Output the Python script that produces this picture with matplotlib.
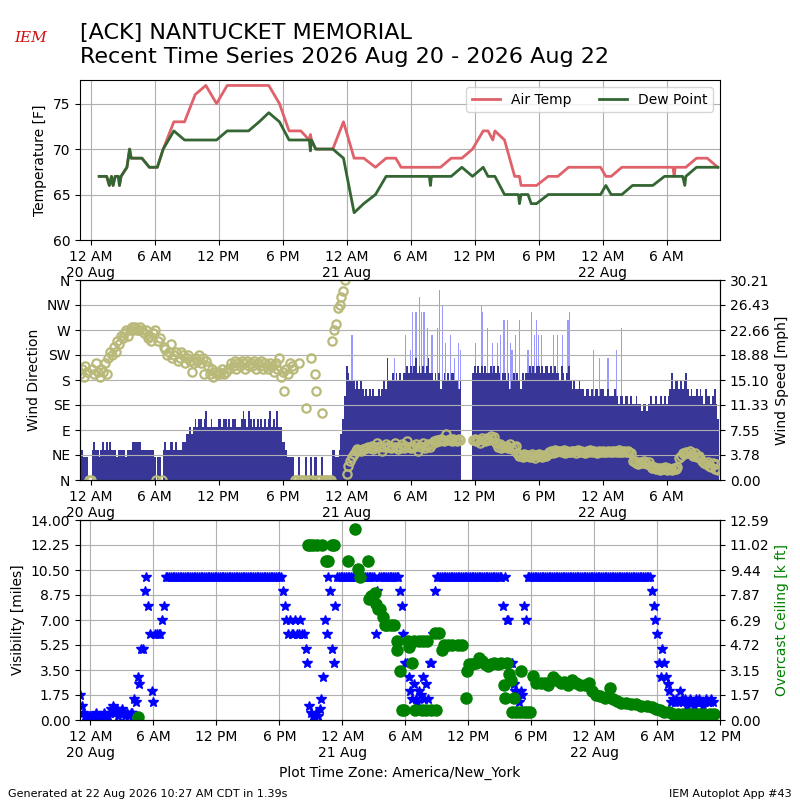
import numpy as np
import pandas as pd
import matplotlib
matplotlib.use('Agg')
import matplotlib.pyplot as plt
import matplotlib.dates as mdates
from matplotlib.ticker import FuncFormatter
from datetime import timedelta

# ---- data (times in hours after 2026-08-20 00:00 local) ----
# temperature / dew point observations [F]
obs_hours = [0.8, 1.5, 1.75, 1.95, 2.1, 2.3, 2.6, 2.7, 2.85, 3.4, 3.65, 3.8, 4.8, 5.5, 6.25,
             6.8, 7.8, 8.8, 9.8, 10.8, 11.8, 12.8, 13.8, 14.8, 15.8, 16.7, 17.7, 18.6, 19.7,
             20.5, 20.6, 20.7, 21.1, 22.7, 23.7, 24.7, 25.6, 26.7, 27.7, 28.6, 29.1, 29.8,
             30.8, 31.75, 31.85, 31.95, 32.8, 33.8, 34.8, 35.8, 36.8, 37.25, 37.7, 37.9, 38.8,
             39.75, 40.1, 40.2, 40.35, 41.0, 41.3, 41.8, 42.9, 43.8, 44.8, 45.8, 46.8, 47.8,
             48.3, 48.8, 49.8, 50.8, 51.8, 52.7, 53.8, 54.6, 54.7, 54.8, 55.5, 55.7, 55.8,
             56.8, 57.8, 58.8]
air_temp = [67, 67, 66, 67, 66, 67, 67, 66, 67, 68, 70, 69, 69, 68, 68,
            70, 73, 73, 76, 77, 75, 77, 77, 77, 77, 77, 75, 72, 72,
            71, 71.6, 71, 70, 70, 73, 69, 69, 68, 69, 69, 68, 68,
            68, 68, 68, 68, 68, 69, 69, 70, 72, 72, 71, 72, 71,
            67, 67, 67, 66, 66, 66, 66, 67, 67, 68, 68, 68, 68,
            67, 67, 68, 68, 68, 68, 68, 68, 67, 68, 68, 68, 68,
            69, 69, 68]
dew_point = [67, 67, 66, 67, 66, 67, 67, 66, 67, 68, 70, 69, 69, 68, 68,
             70, 72, 71, 71, 71, 71, 72, 72, 72, 73, 74, 73, 71, 71,
             71, 69.8, 71, 70, 70, 69, 63, 64, 65, 67, 67, 67, 67,
             67, 67, 66, 67, 67, 67, 68, 67, 68, 67, 67, 67, 65,
             65, 65, 64, 65, 65, 64, 64, 65, 65, 65, 65, 65, 65,
             66, 65, 65, 66, 66, 66, 67, 67, 67, 67, 67, 66, 67,
             68, 68, 68]

# wind, every 10 minutes starting 2026-08-19 23:00 (one row per hour)
nan = np.nan
wind_kt = [
    4, 4, 3, 3, 3, 0,
    0, 4, 5, 4, 4, 3,
    4, 5, 4, 5, 4, 5,
    4, 4, 4, 3, 4, 4,
    4, 4, 3, 4, 4, 4,
    5, 5, 5, 5, 5, 4,
    4, 4, 4, 4, 4, 4,
    3, 0, 3, 3, 0, 4,
    5, 4, 4, 5, 5, 4,
    5, 4, 4, 4, 5, 5,
    6, 6, 7, 6, 7, 8,
    7, 8, 8, 7, 8, 9,
    7, 7, 8, 7, 7, 7,
    8, 8, 7, 8, 8, 7,
    8, 7, 8, 8, 7, 7,
    7, 8, 9, 8, 7, 9,
    8, 7, 8, 7, 8, 7,
    8, 7, 8, 7, 8, 9,
    7, 8, 7, 9, 7, 7,
    5, 5, 4, 3, 3, 3,
    3, 0, 0, 3, 0, 0,
    0, 3, 0, 0, 3, 0,
    3, 3, 0, 0, 3, 0,
    0, 0, 0, 0, 4, 4,
    3, 3, 4, 6, 8, 11,
    15, 14, 13, 13, 13, 12,
    13, 12, 13, 12, 11, 12,
    11, 12, 11, 12, 11, 11,
    12, 11, 12, 13, 12, 16,
    13, 13, 14, 13, 14, 13,
    14, 13, 14, 14, 15, 14,
    15, 14, 15, 16, 14, 15,
    14, 15, 14, 15, 16, 14,
    14, 13, 14, 13, 14, 12,
    13, 14, 13, 14, 13, 14,
    14, 13, 13, 12, 13, nan,
    nan, nan, nan, nan, nan, 14,
    15, 14, 15, 14, 15, 14,
    15, 14, 14, 15, 14, 15,
    14, 15, 14, 13, 14, 14,
    13, 14, 12, 13, 14, 13,
    14, 13, 12, 14, 13, 14,
    14, 15, 14, 15, 14, 15,
    15, 14, 15, 14, 15, 15,
    14, 15, 14, 15, 14, 14,
    13, 15, 14, 13, 14, 15,
    13, 12, 13, 12, 12, 13,
    12, 12, 11, 12, 12, 11,
    12, 11, 12, 12, 11, 12,
    12, 11, 11, 12, 11, 11,
    11, 12, 11, 10, 11, 11,
    10, 11, 11, 10, 11, 10,
    10, 11, 10, 10, 9, 10,
    10, 9, 10, 11, 10, 10,
    11, 10, 10, 11, 10, 11,
    10, 11, 12, 14, 12, 13,
    13, 12, 13, 12, 13, 14,
    12, 11, 12, 11, 11, 12,
    11, 12, 11, 10, 12, 11,
    11, 10, 11, 12, 10, 8,
]
wind_dir = [
    190, 200, 185, 205, 195, 0,
    0, 200, 190, 210, 195, 185,
    200, 195, 210, 190, 220, 230,
    225, 240, 230, 250, 245, 260,
    255, 265, 270, 260, 270, 275,
    270, 275, 270, 270, 275, 270,
    265, 270, 255, 260, 250, 265,
    270, 0, 250, 255, 0, 240,
    235, 225, 230, 245, 220, 225,
    230, 215, 220, 230, 225, 210,
    220, 225, 215, 195, 210, 220,
    215, 225, 210, 220, 190, 215,
    205, 190, 200, 185, 195, 190,
    195, 190, 200, 190, 195, 200,
    200, 210, 205, 215, 200, 210,
    205, 215, 210, 200, 215, 205,
    210, 205, 215, 200, 210, 205,
    215, 200, 210, 205, 200, 210,
    205, 195, 210, 200, 220, 185,
    195, 160, 200, 190, 210, 205,
    200, 0, 0, 210, 0, 0,
    0, 130, 0, 0, 220, 0,
    190, 160, 0, 0, 120, 0,
    0, 0, 0, 0, 250, 270,
    280, 310, 315, 330, 340, 360,
    10, 25, 35, 42, 46, 52,
    55, 54, 52, 56, 55, 58,
    60, 58, 62, 55, 60, 66,
    60, 62, 52, 60, 64, 60,
    62, 58, 60, 66, 60, 55,
    60, 64, 58, 62, 70, 60,
    58, 62, 60, 64, 52, 62,
    60, 66, 58, 62, 64, 60,
    65, 70, 68, 72, 70, 74,
    72, 70, 82, 72, 74, 70,
    74, 72, 70, 74, 72, nan,
    nan, nan, nan, nan, nan, 72,
    74, 70, 72, 66, 75, 72,
    70, 76, 72, 80, 74, 78,
    66, 60, 64, 58, 62, 60,
    62, 58, 64, 56, 60, 62,
    48, 44, 45, 42, 46, 44,
    45, 42, 46, 44, 40, 45,
    46, 44, 42, 45, 43, 46,
    50, 52, 48, 54, 50, 52,
    52, 50, 54, 48, 52, 50,
    50, 53, 52, 48, 54, 50,
    52, 50, 48, 52, 50, 54,
    50, 52, 50, 48, 52, 50,
    52, 50, 51, 53, 50, 52,
    50, 52, 50, 54, 51, 50,
    52, 50, 52, 50, 48, 34,
    34, 30, 28, 32, 30, 34,
    30, 28, 32, 26, 22, 24,
    20, 22, 18, 22, 20, 24,
    18, 22, 20, 18, 22, 20,
    24, 40, 44, 48, 46, 50,
    48, 52, 46, 44, 48, 42,
    44, 40, 34, 30, 28, 32,
    26, 24, 30, 20, 28, 18,
]
gust_hours = [24.5, 28.5, 29.5, 30.0, 30.2, 30.5, 30.8, 31.0, 31.25, 31.6, 32.0, 32.5, 32.7,
              33.0, 33.3, 33.75, 34.1, 34.5, 34.7, 36.1, 36.6, 36.7, 37.2, 37.7, 38.1, 38.4,
              38.75, 39.1, 39.35, 39.5, 39.85, 40.2, 41.0, 41.3, 41.6, 41.8, 41.95, 42.25,
              43.35, 43.8, 44.2, 44.75, 44.85, 47.1, 47.7, 48.5, 49.3, 49.75]
gust_kt = [19, 16, 19, 17, 22, 22, 24, 22, 22, 20, 19, 20, 25,
           23, 18, 19, 16, 18, 17, 18, 23, 22, 20, 18, 18, 19,
           21, 21, 18, 17, 19, 21, 17, 22, 19, 21, 19, 19,
           19, 19, 19, 21, 22, 17, 16, 16, 17, 20]

# visibility [miles], every 10 minutes starting 2026-08-19 23:00
visibility = [
    1.75, 1.0, 0.5, 0.25, 0.25, 0.25,
    0.25, 0.25, 0.25, 0.5, 0.25, 0.25,
    0.25, 0.25, 0.5, 0.25, 0.25, 0.5,
    0.75, 1.0, 0.5, 0.75, 0.25, 0.5,
    0.75, 0.5, 0.25, 0.5, 0.25, 0.5,
    0.5, 1.5, 1.25, 3, 2.5, 5,
    5, 9, 10, 8, 6, 2,
    1.25, 6, 6, 6, 6, 7,
    8, 10, 10, 10, 10, 10,
    10, 10, 10, 10, 10, 10,
    10, 10, 10, 10, 10, 10,
    10, 10, 10, 10, 10, 10,
    10, 10, 10, 10, 10, 10,
    10, 10, 10, 10, 10, 10,
    10, 10, 10, 10, 10, 10,
    10, 10, 10, 10, 10, 10,
    10, 10, 10, 10, 10, 10,
    10, 10, 10, 10, 10, 10,
    10, 10, 10, 10, 10, 10,
    10, 10, 9, 8, 7, 6,
    7, 6, 6, 7, 6, 6,
    7, 6, 6, 5, 4, 1.0,
    0.5, 0.25, 0.25, 0.5, 0.25, 0.75,
    1.5, 3, 7, 6, 10, 9,
    5, 4, 8, 10, 10, 10,
    10, 10, 10, 10, 10, 10,
    10, 10, 10, 10, 10, 10,
    10, 10, 10, 10, 10, 10,
    10, 6, 9, 10, 10, 10,
    10, 10, 10, 10, 10, 10,
    10, 10, 10, 9, 8, 6,
    4, 4, 3, 2, 1.5, 2.5,
    1.5, 1.25, 2, 1.75, 3, 1.5,
    2.5, 1.5, 4, 4, 6, 9,
    10, 10, 10, 10, 10, 10,
    10, 10, 10, 10, 10, 10,
    10, 10, 10, 10, 10, 10,
    10, 10, 10, 10, 10, 10,
    10, 10, 10, 10, 10, 10,
    10, 10, 10, 10, 10, 10,
    10, 10, 8, 10, 7, 7,
    4, 4, 2.5, 2, 1.5, 1.25,
    2, 1.75, 8, 7, 10, 10,
    10, 10, 10, 10, 10, 10,
    10, 10, 10, 10, 10, 10,
    10, 10, 10, 10, 10, 10,
    10, 10, 10, 10, 10, 10,
    10, 10, 10, 10, 10, 10,
    10, 10, 10, 10, 10, 10,
    10, 10, 10, 10, 10, 10,
    10, 10, 10, 10, 10, 10,
    10, 10, 10, 10, 10, 10,
    10, 10, 10, 10, 10, 10,
    10, 10, 10, 10, 10, 10,
    10, 10, 10, 9, 8, 7,
    6, 4, 3, 5, 4, 3,
    2.5, 2, 1.25, 1.5, 1.25, 1.5,
    1.25, 2, 1.5, 1.25, 1.5, 1.0,
    1.25, 1.5, 1.25, 1.0, 1.5, 1.25,
    1.5, 1.25, 1.0, 1.25, 1.5, 1.25,
    1.25, 1.5, 1.25, nan, nan, nan,
]

# overcast ceiling [k ft]
ceil_hours = [4.55, 20.7, 20.9, 21.2, 21.6, 22.1, 22.4, 22.6, 23.0, 23.2,
              24.5, 25.2, 25.5, 25.65, 26.45, 26.5, 26.7, 27.1, 27.2, 27.4, 27.6, 27.9,
              28.1, 28.3, 28.6, 28.9, 29.2, 29.25, 29.5, 29.7, 29.9, 30.3, 30.4, 30.6,
              30.9, 30.8, 31.3, 31.7, 32.1, 31.6, 32.0, 32.5, 32.9, 32.8, 33.2, 33.5,
              33.7, 34.1, 34.5, 35.0, 35.4, 35.8, 35.9, 36.1, 36.4, 36.7, 37.0, 37.3,
              37.6, 37.9, 38.2, 38.5, 38.8, 39.1, 39.4, 39.5, 39.7, 39.9, 40.1, 40.2,
              40.4, 40.6, 40.9, 41.05, 41.3, 41.6, 41.9, 42.15, 42.5, 42.9, 43.3, 43.6,
              44.1, 44.4, 44.8, 45.1, 45.5, 45.9, 46.3, 46.7, 47.1, 47.5, 47.8, 48.2,
              48.6, 49.0, 49.5, 49.8, 50.2, 50.6, 51.0, 51.5, 52.0, 52.5, 53.0, 53.5,
              53.9, 54.3, 54.7, 55.1, 55.5, 56.0, 56.5, 57.0, 57.5, 58.0, 58.5, 59.0, 59.4]
ceiling_kft = [0.2, 11.0, 11.0, 11.0, 11.0, 11.0, 10.0, 10.0, 11.0, 11.0,
               10.0, 12.0, 9.5, 9.0, 10.0, 7.6, 7.8, 8.0, 7.3, 7.0, 7.0, 6.5,
               6.0, 6.0, 6.0, 6.0, 5.0, 4.4, 3.1, 0.65, 0.65, 5.0, 4.6, 3.6,
               0.65, 5.0, 5.0, 5.0, 5.0, 0.65, 0.65, 0.65, 0.65, 5.5, 5.5, 4.4,
               4.75, 4.75, 4.75, 4.75, 4.75, 1.4, 3.1, 3.5, 3.5, 3.6, 3.9, 3.7,
               3.5, 3.4, 3.5, 3.6, 3.5, 3.6, 2.2, 1.4, 3.6, 2.9, 2.5, 0.5,
               1.4, 0.5, 0.5, 3.1, 0.5, 0.5, 0.5, 2.8, 2.3, 2.3, 2.3, 2.2,
               2.7, 2.5, 2.3, 2.4, 2.2, 2.5, 2.3, 2.2, 2.2, 2.3, 1.8, 1.6,
               1.5, 1.4, 2.0, 1.3, 1.2, 1.1, 1.1, 1.0, 1.0, 0.9, 0.9, 0.8,
               0.7, 0.6, 0.5, 0.5, 0.4, 0.4, 0.4, 0.4, 0.4, 0.4, 0.4, 0.4, 0.35]

direction_labels = ['N', 'NE', 'E', 'SE', 'S', 'SW', 'W', 'NW', 'N']

# ---- helpers ----
base = pd.Timestamp('2026-08-20 00:00')


def hours_to_time(h):
    return base + pd.to_timedelta(np.asarray(h, dtype=float), unit='h')


def time_fmt(x, pos=None):
    dt = mdates.num2date(x) + timedelta(seconds=30)
    s = dt.strftime('%-I %p')
    if dt.hour == 0:
        s += '\n' + dt.strftime('%d %b')
    return s


def setup_xaxis(ax, end):
    ax.set_xlim(pd.Timestamp('2026-08-19 23:00'), pd.Timestamp(end))
    ax.xaxis.set_major_locator(mdates.HourLocator(byhour=[0, 6, 12, 18]))
    ax.xaxis.set_major_formatter(FuncFormatter(time_fmt))


obs_t = hours_to_time(obs_hours)
wind_t = pd.date_range('2026-08-19 23:00', periods=len(wind_kt), freq='10min')
vis_t = pd.date_range('2026-08-19 23:00', periods=len(visibility), freq='10min')
gust_t = hours_to_time(gust_hours)
ceil_t = hours_to_time(ceil_hours)

kt2mph = 1.15078
spd = np.array(wind_kt, dtype=float) * kt2mph
gst = np.array(gust_kt, dtype=float) * kt2mph
drct = np.array(wind_dir, dtype=float)
vis = np.array(visibility, dtype=float)

fig = plt.figure(figsize=(8, 8), dpi=100)

# title and logo
fig.text(0.1, 0.951, '[ACK] NANTUCKET MEMORIAL', fontsize=16, va='baseline')
fig.text(0.1, 0.921, 'Recent Time Series 2026 Aug 20 - 2026 Aug 22', fontsize=16, va='baseline')
fig.text(0.018, 0.947, 'IEM', fontsize=11, color='#d01010', family='serif', style='italic')

# --- temperature panel ---
ax1 = fig.add_axes([0.1, 0.7, 0.8, 0.2])
ax1.plot(obs_t, air_temp, color='#df626b', lw=2, label='Air Temp')
ax1.plot(obs_t, dew_point, color='#336633', lw=2, label='Dew Point')
ax1.set_ylim(60, 77.6)
ax1.set_yticks([60, 65, 70, 75])
ax1.set_ylabel('Temperature [F]')
ax1.grid(True)
ax1.legend(loc='upper right', ncol=2)
setup_xaxis(ax1, '2026-08-22 11:00')

# --- wind panel ---
ax2 = fig.add_axes([0.1, 0.4, 0.8, 0.25])
bar_w = 10 / 1440.
ax2.bar(gust_t, gst, width=bar_w * 0.6, color='#9999ff', linewidth=0)
smask = ~np.isnan(spd)
ax2.bar(wind_t[smask], spd[smask], width=bar_w, color='#383696', linewidth=0)
speed_top = np.nanmax(gst) * 1.05
ax2.set_ylim(0, speed_top)
ax2.set_yticks(np.linspace(0, speed_top, 9))
ax2.yaxis.set_major_formatter(FuncFormatter(lambda v, p: '%.2f' % v))
setup_xaxis(ax2, '2026-08-22 11:00')

ax2b = ax2.twinx()
ax2b.plot(wind_t, drct, 'o', mfc='none', mec='#b9b979', ms=6, mew=1.6)
ax2b.set_ylim(0, 360)
ax2b.set_yticks(np.arange(0, 361, 45))
ax2b.set_yticklabels(direction_labels)
ax2b.grid(True)
ax2b.yaxis.tick_left()
ax2b.yaxis.set_label_position('left')
ax2b.set_ylabel('Wind Direction')
ax2.yaxis.tick_right()
ax2.yaxis.set_label_position('right')
ax2.set_ylabel('Wind Speed [mph]')
setup_xaxis(ax2b, '2026-08-22 11:00')

# --- visibility / ceiling panel ---
ax3 = fig.add_axes([0.1, 0.1, 0.8, 0.25])
ax3.plot(vis_t, vis, '*', color='b', ms=7, mec='b')
ax3.set_ylim(0, 14)
ax3.set_yticks(np.linspace(0, 14, 9))
ax3.yaxis.set_major_formatter(FuncFormatter(lambda v, p: '%.2f' % v))
ax3.set_ylabel('Visibility [miles]')
ax3.grid(True)
ax3.set_xlabel('Plot Time Zone: America/New_York')
setup_xaxis(ax3, '2026-08-22 12:00')

ax3b = ax3.twinx()
ax3b.plot(ceil_t, ceiling_kft, 'o', color='g', ms=8)
ceil_top = 12.59
ax3b.set_ylim(0, ceil_top)
ax3b.set_yticks(np.linspace(0, ceil_top, 9))
ax3b.yaxis.set_major_formatter(FuncFormatter(lambda v, p: '%.2f' % v))
ax3b.set_ylabel('Overcast Ceiling [k ft]', color='g')
setup_xaxis(ax3b, '2026-08-22 12:00')

# footer
fig.text(0.01, 0.004, 'Generated at 22 Aug 2026 10:27 AM CDT in 1.39s', fontsize=8)
fig.text(0.99, 0.004, 'IEM Autoplot App #43', fontsize=8, ha='right')

fig.savefig('out.png', dpi=100)
